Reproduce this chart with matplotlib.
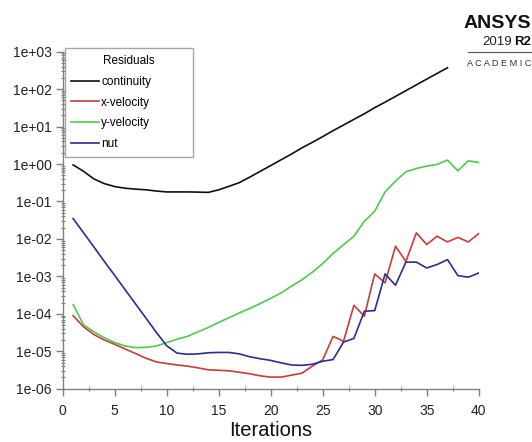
import numpy as np
import matplotlib
matplotlib.use('Agg')
import matplotlib.pyplot as plt
import matplotlib.ticker as mticker

plt.rcParams['font.family'] = ['Liberation Sans', 'DejaVu Sans']

# residual histories
iters = list(range(1, 41))
iters_cont = list(range(1, 38))

continuity = [0.95, 0.64, 0.40, 0.30, 0.25, 0.226, 0.214, 0.205, 0.19, 0.18,
              0.18, 0.18, 0.178, 0.175, 0.205, 0.255, 0.32, 0.45, 0.64, 0.91,
              1.3, 1.85, 2.7, 3.8, 5.4, 7.8, 11.0, 15.6, 22.0, 32.0,
              45.0, 64.0, 91.0, 130.0, 185.0, 263.0, 373.0]

x_velocity = [8.9e-5, 4.5e-5, 2.8e-5, 2.0e-5, 1.53e-5, 1.15e-5, 8.7e-6, 6.5e-6, 5.2e-6, 4.7e-6,
              4.3e-6, 4.0e-6, 3.6e-6, 3.2e-6, 3.1e-6, 3.0e-6, 2.75e-6, 2.5e-6, 2.2e-6, 2.04e-6,
              2.04e-6, 2.3e-6, 2.6e-6, 4.0e-6, 5.9e-6, 2.5e-5, 1.84e-5, 1.69e-4, 8.6e-5, 1.16e-3,
              6.7e-4, 6.4e-3, 2.5e-3, 1.45e-2, 7.1e-3, 1.18e-2, 8.3e-3, 1.1e-2, 8.3e-3, 1.39e-2]

y_velocity = [1.76e-4, 5.1e-5, 3.3e-5, 2.3e-5, 1.7e-5, 1.38e-5, 1.25e-5, 1.27e-5, 1.38e-5, 1.7e-5,
              2.1e-5, 2.5e-5, 3.3e-5, 4.3e-5, 5.9e-5, 7.9e-5, 1.06e-4, 1.4e-4, 1.88e-4, 2.6e-4,
              3.6e-4, 5.5e-4, 8.1e-4, 1.29e-3, 2.2e-3, 4.1e-3, 7.0e-3, 1.18e-2, 2.95e-2, 5.5e-2,
              0.18, 0.35, 0.62, 0.76, 0.88, 0.98, 1.27, 0.66, 1.22, 1.1]

nut = [3.5e-2, 1.46e-2, 6.1e-3, 2.5e-3, 1.06e-3, 4.4e-4, 1.84e-4, 7.7e-5, 3.2e-5, 1.4e-5,
       8.9e-6, 8.3e-6, 8.5e-6, 9.1e-6, 9.3e-6, 9.3e-6, 8.5e-6, 7.1e-6, 6.3e-6, 5.7e-6,
       4.9e-6, 4.3e-6, 4.2e-6, 4.5e-6, 5.4e-6, 6.0e-6, 1.76e-5, 2.2e-5, 1.17e-4, 1.22e-4,
       1.16e-3, 5.8e-4, 2.4e-3, 2.4e-3, 1.68e-3, 2.07e-3, 2.8e-3, 1.05e-3, 9.5e-4, 1.23e-3]

fig = plt.figure(figsize=(5.32, 4.42), dpi=100)
ax = fig.add_axes([0.1179, 0.1206, 0.7819, 0.7624])

ax.plot(iters_cont, continuity, color='#111111', lw=1.2, label='continuity')
ax.plot(iters, x_velocity, color='#cc3a3a', lw=1.2, label='x-velocity')
ax.plot(iters, y_velocity, color='#4ccc4c', lw=1.2, label='y-velocity')
ax.plot(iters, nut, color='#2c2c96', lw=1.2, label='nut')

ax.set_yscale('log')
ax.set_ylim(1e-6, 1e3)
ax.set_xlim(0, 40)

ax.yaxis.set_major_locator(mticker.LogLocator(base=10, numticks=20))
ax.yaxis.set_major_formatter(mticker.FuncFormatter(lambda v, p: f'{v:.0e}'))
ax.yaxis.set_minor_locator(mticker.LogLocator(base=10, subs=(2, 3, 4, 5, 6, 7, 8, 9), numticks=20))
ax.yaxis.set_minor_formatter(mticker.NullFormatter())
ax.xaxis.set_major_locator(mticker.MultipleLocator(5))
ax.xaxis.set_minor_locator(mticker.MultipleLocator(2.5))

for side in ['top', 'right']:
    ax.spines[side].set_visible(False)
for side in ['left', 'bottom']:
    ax.spines[side].set_color('#808080')
    ax.spines[side].set_linewidth(1.0)

ax.tick_params(which='major', direction='out', length=5, width=1, color='#808080',
               labelsize=10, labelcolor='#222222', pad=3)
ax.tick_params(axis='x', which='major', pad=6)
ax.tick_params(which='minor', direction='inout', length=3, width=0.8, color='#808080')

ax.set_xlabel('Iterations', fontsize=14.5, color='#111111', labelpad=2)

leg = ax.legend(title='Residuals', loc='upper left',
                bbox_to_anchor=(65 / 532, 1 - 48.3 / 442, 127.7 / 532, 0.0),
                bbox_transform=fig.transFigure, mode='expand',
                fontsize=8.5, title_fontsize=8.5, frameon=True, fancybox=False,
                handlelength=2.3, handletextpad=0.2, labelspacing=0.75,
                borderpad=0.55, borderaxespad=0)
leg.get_frame().set_edgecolor('#909090')
leg.get_frame().set_linewidth(1.0)

# ANSYS logo block in the top right corner
fig.text(531 / 532, 1 - 23 / 442, 'ANSYS', ha='right', va='center', fontsize=14,
         fontweight='bold', color='#111111')
r2 = fig.text(531 / 532, 1 - 42 / 442, 'R2', ha='right', va='center', fontsize=9.5,
              fontweight='bold', color='#111111')
fig.canvas.draw()
r2_w = r2.get_window_extent().width / fig.bbox.width
fig.text(531 / 532 - r2_w - 2 / 532, 1 - 42 / 442, '2019', ha='right', va='center',
         fontsize=9.5, color='#222222')
fig.add_artist(plt.Line2D([468 / 532, 531 / 532], [1 - 51.7 / 442, 1 - 51.7 / 442],
                          transform=fig.transFigure, color='#555555', lw=0.8))
fig.text(531 / 532, 1 - 63 / 442, 'A C A D E M I C', ha='right', va='center',
         fontsize=6.6, color='#333333')

fig.savefig('out.png', dpi=100)
